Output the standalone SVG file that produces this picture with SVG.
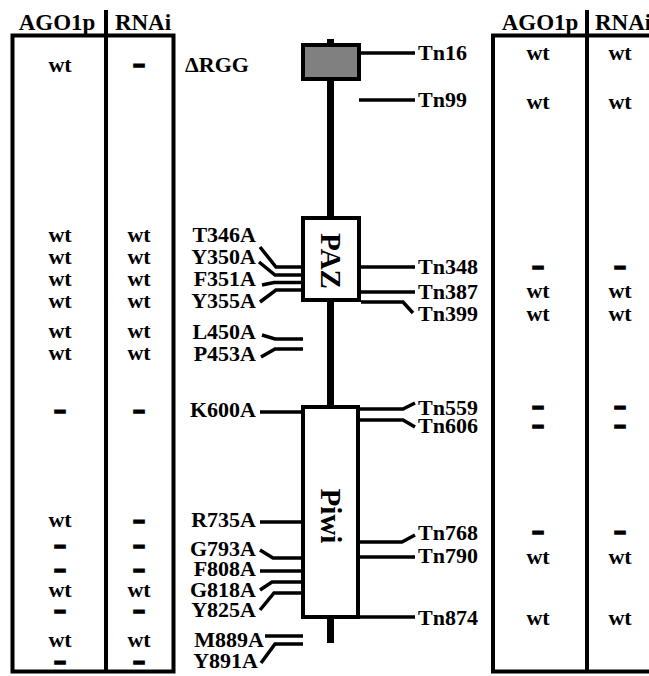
<svg xmlns="http://www.w3.org/2000/svg" width="649" height="676" viewBox="0 0 649 676">
<style>
text{font-family:"Liberation Serif","Times New Roman",serif;font-weight:bold;font-size:22px;fill:#000}
.c{text-anchor:middle}
.e{text-anchor:end}
.d{text-anchor:middle;font-size:17px;stroke:#000;stroke-width:3}
.h{text-anchor:middle;font-size:23px}
.tbl{fill:none;stroke:#000;stroke-width:4}
.ln{fill:none;stroke:#000;stroke-width:3.5}
.dom{fill:#fff;stroke:#000;stroke-width:4}
.big{font-size:29px}
</style>
<rect width="649" height="676" fill="#fff"/>

<g id="table-left">
<rect class="tbl" x="12.5" y="35.5" width="161" height="636"/>
<line class="tbl" x1="106" y1="10" x2="106" y2="671"/>
<text class="h" x="57" y="30">AGO1p</text>
<text class="h" x="143" y="30">RNAi</text>
<text class="c" x="60" y="72">wt</text><text class="d" x="139" y="70">–</text>
<text class="c" x="60" y="242">wt</text><text class="c" x="139" y="242">wt</text>
<text class="c" x="60" y="264">wt</text><text class="c" x="139" y="264">wt</text>
<text class="c" x="60" y="286">wt</text><text class="c" x="139" y="286">wt</text>
<text class="c" x="60" y="308">wt</text><text class="c" x="139" y="308">wt</text>
<text class="c" x="60" y="338">wt</text><text class="c" x="139" y="338">wt</text>
<text class="c" x="60" y="360">wt</text><text class="c" x="139" y="360">wt</text>
<text class="d" x="60" y="416">–</text><text class="d" x="139" y="416">–</text>
<text class="c" x="60" y="527">wt</text><text class="d" x="139" y="526">–</text>
<text class="d" x="60" y="551">–</text><text class="d" x="139" y="551">–</text>
<text class="d" x="60" y="575">–</text><text class="d" x="139" y="575">–</text>
<text class="c" x="60" y="597">wt</text><text class="c" x="139" y="597">wt</text>
<text class="d" x="60" y="616">–</text><text class="d" x="139" y="616">–</text>
<text class="c" x="60" y="647">wt</text><text class="c" x="139" y="647">wt</text>
<text class="d" x="60" y="667">–</text><text class="d" x="139" y="667">–</text>
</g>

<g id="table-right">
<rect class="tbl" x="493" y="35.5" width="200" height="636"/>
<line class="tbl" x1="587" y1="10" x2="587" y2="671"/>
<text class="h" x="540" y="30">AGO1p</text>
<text x="595" y="30" style="font-size:23px">RNAi</text>
<text class="c" x="538" y="60">wt</text><text class="c" x="620" y="60">wt</text>
<text class="c" x="538" y="109">wt</text><text class="c" x="620" y="109">wt</text>
<text class="d" x="538" y="272">–</text><text class="d" x="620" y="272">–</text>
<text class="c" x="538" y="298">wt</text><text class="c" x="620" y="298">wt</text>
<text class="c" x="538" y="321">wt</text><text class="c" x="620" y="321">wt</text>
<text class="d" x="538" y="412">–</text><text class="d" x="620" y="412">–</text>
<text class="d" x="538" y="431">–</text><text class="d" x="620" y="431">–</text>
<text class="d" x="538" y="537">–</text><text class="d" x="620" y="537">–</text>
<text class="c" x="538" y="564">wt</text><text class="c" x="620" y="564">wt</text>
<text class="c" x="538" y="625">wt</text><text class="c" x="620" y="625">wt</text>
</g>

<g id="connectors">
<line x1="330.5" y1="39" x2="330.5" y2="643" stroke="#000" stroke-width="7"/>
<polyline class="ln" points="361,53 415,53"/>
<polyline class="ln" points="359,100 415,100"/>
<polyline class="ln" points="260,247 276,267 301,267"/>
<polyline class="ln" points="259,262 275,275 301,275"/>
<polyline class="ln" points="262,285 274,282.5 301,282.5"/>
<polyline class="ln" points="260,302 276,290 301,290"/>
<polyline class="ln" points="262,335 275,339 303,339"/>
<polyline class="ln" points="261,357 275,349 303,349"/>
<polyline class="ln" points="361,267 415,267"/>
<polyline class="ln" points="361,292 415,292"/>
<polyline class="ln" points="361,302 403,302 413,313"/>
<polyline class="ln" points="260,412 301,412"/>
<polyline class="ln" points="360,409 403,409 415,403"/>
<polyline class="ln" points="360,420 403,420 415,427"/>
<polyline class="ln" points="260,522 302,522"/>
<polyline class="ln" points="260,550 273,558 302,558"/>
<polyline class="ln" points="260,571 302,571"/>
<polyline class="ln" points="260,590 272,582 302,582"/>
<polyline class="ln" points="260,610 274,593 302,593"/>
<polyline class="ln" points="265,636 303,636"/>
<polyline class="ln" points="261,663 275,644 303,644"/>
<polyline class="ln" points="358,542 402,542 415,535"/>
<polyline class="ln" points="358,557 415,557"/>
<polyline class="ln" points="358,617 415,617"/>
</g>

<g id="rgg">
<rect x="303" y="45" width="56" height="34" fill="#808080" stroke="#000" stroke-width="4"/>
</g>
<g id="paz">
<rect class="dom" x="303" y="218" width="56" height="82"/>
<text class="c big" transform="translate(331,261) rotate(90)" x="0" y="10">PAZ</text>
</g>
<g id="piwi">
<rect class="dom" x="303" y="407" width="55" height="210"/>
<text class="c big" transform="translate(331,516) rotate(90)" x="0" y="10">Piwi</text>
</g>

<g id="labels-left">
<text x="185" y="72">ΔRGG</text>
<text class="e" x="256" y="242">T346A</text>
<text class="e" x="256" y="264">Y350A</text>
<text class="e" x="256" y="286">F351A</text>
<text class="e" x="256" y="308">Y355A</text>
<text class="e" x="256" y="339">L450A</text>
<text class="e" x="256" y="361">P453A</text>
<text class="e" x="256" y="417">K600A</text>
<text class="e" x="256" y="527">R735A</text>
<text class="e" x="256" y="556">G793A</text>
<text class="e" x="256" y="576">F808A</text>
<text class="e" x="256" y="597">G818A</text>
<text class="e" x="256" y="617">Y825A</text>
<text class="e" x="264" y="647">M889A</text>
<text class="e" x="258" y="668">Y891A</text>
</g>

<g id="labels-right">
<text x="418" y="60">Tn16</text>
<text x="418" y="107">Tn99</text>
<text x="418" y="274">Tn348</text>
<text x="418" y="299">Tn387</text>
<text x="418" y="321">Tn399</text>
<text x="418" y="415">Tn559</text>
<text x="418" y="433">Tn606</text>
<text x="418" y="540">Tn768</text>
<text x="418" y="563">Tn790</text>
<text x="418" y="625">Tn874</text>
</g>
</svg>
